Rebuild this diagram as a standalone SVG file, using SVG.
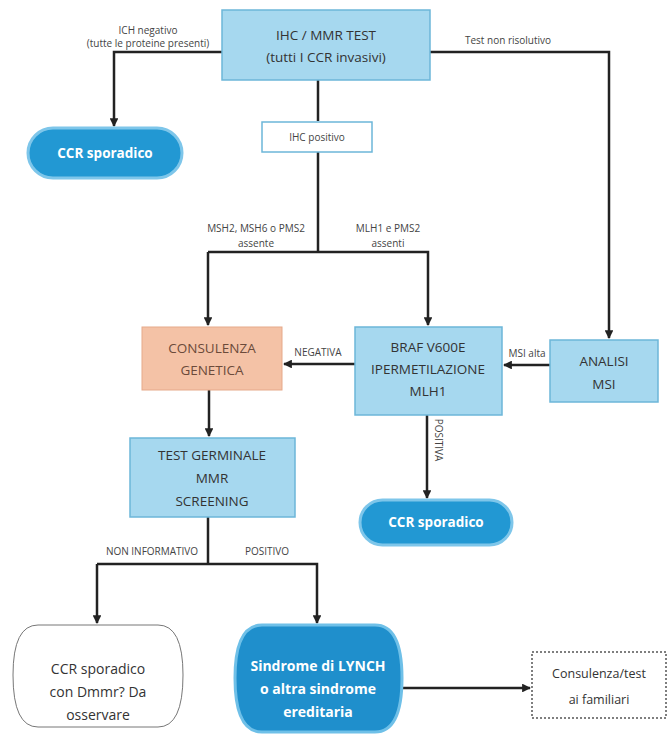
<svg xmlns="http://www.w3.org/2000/svg" width="668" height="735" viewBox="0 0 668 735">
<defs>
<style>
.box{fill:#a6d8ef;stroke:#6cb6d9;stroke-width:1.5}
.pill{fill:#2298d3;stroke:#7ec6ea;stroke-width:3}
.t{font-family:"Open Sans","Liberation Sans",sans-serif;font-size:13.5px;fill:#333;text-anchor:middle}
.tw{font-family:"Open Sans","Liberation Sans",sans-serif;font-size:13.5px;fill:#fff;font-weight:bold;text-anchor:middle}
.lab{font-family:"Open Sans","Liberation Sans",sans-serif;font-size:10px;fill:#444;text-anchor:middle}
.ln{fill:none;stroke:#222;stroke-width:2.5}
</style>
<marker id="ah" viewBox="0 0 10 10" refX="9" refY="5" markerWidth="3.5" markerHeight="3.5" orient="auto">
<path d="M0,0 L10,5 L0,10 z" fill="#222"/>
</marker>
</defs>
<rect width="668" height="735" fill="#fff"/>

<g id="connectors">
<path class="ln" d="M222,52 H114 V126" marker-end="url(#ah)"/>
<path class="ln" d="M430,52 H609 V338" marker-end="url(#ah)"/>
<path class="ln" d="M318,80 V121"/>
<path class="ln" d="M318,152 V252"/>
<path class="ln" d="M208,252 H428 V325" marker-end="url(#ah)"/>
<path class="ln" d="M208,252 V325" marker-end="url(#ah)"/>
<path class="ln" d="M355,364 H284" marker-end="url(#ah)"/>
<path class="ln" d="M550,365 H504" marker-end="url(#ah)"/>
<path class="ln" d="M209,390 V436" marker-end="url(#ah)"/>
<path class="ln" d="M427,415 V498" marker-end="url(#ah)"/>
<path class="ln" d="M208,517 V564"/>
<path class="ln" d="M97,564 H317 V623" marker-end="url(#ah)"/>
<path class="ln" d="M97,564 V623" marker-end="url(#ah)"/>
<path class="ln" d="M402,688 H530" marker-end="url(#ah)"/>
<text class="lab" x="148" y="34">ICH negativo</text>
<text class="lab" x="148" y="47">(tutte le proteine presenti)</text>
<text class="lab" x="508" y="44">Test non risolutivo</text>
<text class="lab" x="256" y="232">MSH2, MSH6 o PMS2</text>
<text class="lab" x="256" y="247">assente</text>
<text class="lab" x="388" y="232">MLH1 e PMS2</text>
<text class="lab" x="388" y="247">assenti</text>
<text class="lab" x="318" y="356">NEGATIVA</text>
<text class="lab" x="527" y="357">MSI alta</text>
<text class="lab" transform="translate(435,440) rotate(90)">POSITIVA</text>
<text class="lab" x="152" y="555">NON INFORMATIVO</text>
<text class="lab" x="267" y="555">POSITIVO</text>
</g>

<g id="ihc-mmr">
<rect class="box" x="222" y="10" width="208" height="70"/>
<text class="t" x="326" y="40">IHC / MMR TEST</text>
<text class="t" x="326" y="62">(tutti I CCR invasivi)</text>
</g>

<g id="ccr-sporadico-1">
<rect class="pill" x="28" y="128" width="154" height="50" rx="25"/>
<text class="tw" x="105" y="158">CCR sporadico</text>
</g>

<g id="ihc-positivo">
<rect x="262" y="122" width="110" height="30" fill="#fff" stroke="#6cb6d9" stroke-width="1.5"/>
<text class="lab" x="317" y="141">IHC positivo</text>
</g>

<g id="consulenza-genetica">
<rect x="142" y="327" width="140" height="63" fill="#f4c2a6" stroke="#e6a98a" stroke-width="1"/>
<text class="t" x="212" y="353" style="fill:#6b4a3a">CONSULENZA</text>
<text class="t" x="212" y="375" style="fill:#6b4a3a">GENETICA</text>
</g>

<g id="braf">
<rect class="box" x="355" y="327" width="147" height="88"/>
<text class="t" x="428" y="352">BRAF V600E</text>
<text class="t" x="428" y="374">IPERMETILAZIONE</text>
<text class="t" x="428" y="396">MLH1</text>
</g>

<g id="analisi-msi">
<rect class="box" x="550" y="340" width="108" height="62"/>
<text class="t" x="604" y="366">ANALISI</text>
<text class="t" x="604" y="389">MSI</text>
</g>

<g id="test-germinale">
<rect class="box" x="130" y="438" width="165" height="79"/>
<text class="t" x="212" y="460">TEST GERMINALE</text>
<text class="t" x="212" y="483">MMR</text>
<text class="t" x="212" y="506">SCREENING</text>
</g>

<g id="ccr-sporadico-2">
<rect class="pill" x="360" y="500" width="152" height="45" rx="22.5"/>
<text class="tw" x="436" y="527">CCR sporadico</text>
</g>

<g id="ccr-dmmr">
<path d="M38,625 H158 Q183,625 183,675 Q183,727 158,727 H38 Q13,727 13,675 Q13,625 38,625 Z" fill="#fff" stroke="#777" stroke-width="1"/>
<text class="t" x="98" y="674" style="font-size:14px">CCR sporadico</text>
<text class="t" x="98" y="697" style="font-size:14px">con Dmmr? Da</text>
<text class="t" x="98" y="720" style="font-size:14px">osservare</text>
</g>

<g id="lynch">
<path d="M262,625 H375 Q402,625 402,678 Q402,732 375,732 H262 Q235,732 235,678 Q235,625 262,625 Z" fill="#1f8fcc" stroke="#6fc0e8" stroke-width="3"/>
<text class="tw" x="318" y="671" style="font-size:14px">Sindrome di LYNCH</text>
<text class="tw" x="318" y="694" style="font-size:14px">o altra sindrome</text>
<text class="tw" x="318" y="717" style="font-size:14px">ereditaria</text>
</g>

<g id="familiari">
<rect x="532" y="652" width="134" height="66" fill="#fff" stroke="#555" stroke-width="1.5" stroke-dasharray="2,2"/>
<text class="t" x="599" y="678" style="font-size:12.5px">Consulenza/test</text>
<text class="t" x="599" y="704" style="font-size:12.5px">ai familiari</text>
</g>
</svg>
